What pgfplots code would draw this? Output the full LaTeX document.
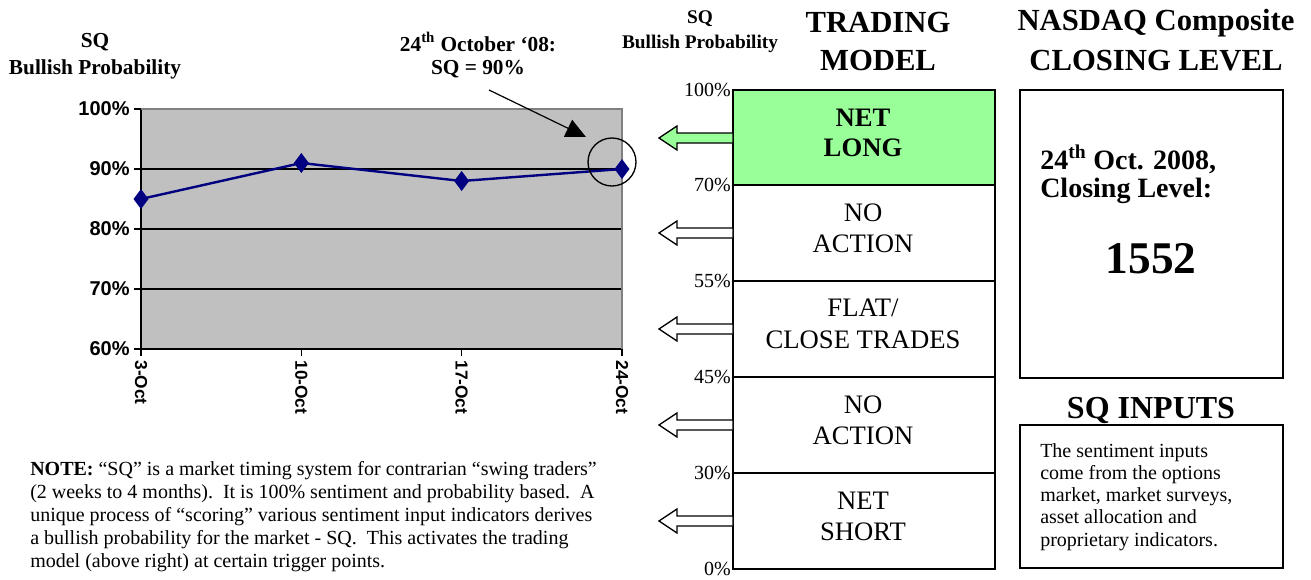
\documentclass[border=0pt]{standalone}
\usepackage{pgfplots}
\pgfplotsset{compat=1.18}
\usepackage{fontspec}
\setmainfont{Liberation Serif}
\newfontfamily\arial{Liberation Sans}
\usetikzlibrary{arrows.meta}
\definecolor{chartgray}{HTML}{C0C0C0}
\definecolor{bordergray}{HTML}{808080}
\definecolor{navyline}{HTML}{000080}
\definecolor{lgreen}{HTML}{99FF99}
\newcommand{\fs}[1]{\fontsize{#1pt}{1.2\dimexpr#1pt\relax}\selectfont}
\begin{document}
\begin{tikzpicture}[x=0.75pt,y=-0.75pt]
\useasboundingbox (0,0) rectangle (1311,579);
\coordinate (axorigin) at (141,349);
\begin{axis}[
  at={(axorigin)}, anchor=south west,
  scale only axis, width=360.75pt, height=180pt,
  xmin=0, xmax=3, ymin=60, ymax=100,
  axis x line*=bottom, axis y line*=left,
  axis line style={line width=1.6pt,-},
  axis background/.style={fill=chartgray},
  xtick={0,1,2,3}, xticklabels={3-Oct,10-Oct,17-Oct,24-Oct},
  ytick={60,70,80,90,100}, yticklabels={60\%,70\%,80\%,90\%,100\%},
  tick align=outside, major tick length=5pt,
  tick style={black, line width=1.2pt},
  x tick label style={rotate=-90, anchor=west, font=\arial\bfseries\fs{13}},
  y tick label style={font=\arial\bfseries\fs{15}},
  extra y ticks={70,80,90}, extra y tick labels={},
  extra y tick style={grid=major, major tick length=0pt},
  grid style={black, line width=1.6pt},
  clip=false,
]
\draw[bordergray, line width=1.5pt] (rel axis cs:0,1) -- (rel axis cs:1,1) -- (rel axis cs:1,0);
\addplot[navyline, line width=1.8pt, mark=diamond*, mark size=6pt, mark options={fill=navyline}]
  coordinates {(0,85) (1,91) (2,88) (3,90)};
\end{axis}
% annotation
\draw[line width=1pt] (612,162) circle [radius=24];
\draw[line width=0.9pt, -{Triangle[length=15, width=14]}] (489,90) -- (586,137);
\node[anchor=base, font=\bfseries\fs{16}] at (478,51) {24\textsuperscript{th} October ‘08:};
\node[anchor=base, font=\bfseries\fs{16}] at (478,74) {SQ = 90\%};
% left header
\node[anchor=base, font=\bfseries\fs{16}] at (95,47) {SQ};
\node[anchor=base, font=\bfseries\fs{16}] at (95,74) {Bullish Probability};
% middle header
\node[anchor=base, font=\bfseries\fs{14.5}] at (700,23) {SQ};
\node[anchor=base, font=\bfseries\fs{14.5}] at (700,48) {Bullish Probability};
\node[anchor=base, font=\bfseries\fs{23}] at (878,32) {TRADING};
\node[anchor=base, font=\bfseries\fs{23}] at (878,70) {MODEL};
\node[anchor=base, font=\bfseries\fs{23}] at (1156,30) {NASDAQ Composite};
\node[anchor=base, font=\bfseries\fs{23}] at (1156,70) {CLOSING LEVEL};
% trading model boxes
\fill[lgreen] (733,90) rectangle (995,185);
\draw[line width=1.2pt] (733,90) rectangle (995,569);
\foreach \yy in {185,281,377,473} \draw[line width=1.2pt] (733,\yy) -- (995,\yy);
\foreach \yy/\lab in {90/100\%,185/70\%,281/55\%,377/45\%,473/30\%,569/0\%}
  \node[anchor=base east, inner sep=0pt, font=\fs{15}] at (731,\yy+6) {\lab};
% box arrows
\foreach \c/\col in {138/lgreen,233/white,329/white,425/white,521/white}
  \draw[line width=1pt, fill=\col] (659,\c) -- (677,\c-12) -- (677,\c-5) -- (733,\c-5) -- (733,\c+5) -- (677,\c+5) -- (677,\c+12) -- cycle;
% box labels
\node[anchor=base, font=\bfseries\fs{20}] at (863,126) {NET};
\node[anchor=base, font=\bfseries\fs{20}] at (863,156) {LONG};
\node[anchor=base, font=\fs{20}] at (863,221) {NO};
\node[anchor=base, font=\fs{20}] at (863,252) {ACTION};
\node[anchor=base, font=\fs{20}] at (863,316) {FLAT/};
\node[anchor=base, font=\fs{20}] at (863,348) {CLOSE TRADES};
\node[anchor=base, font=\fs{20}] at (863,413) {NO};
\node[anchor=base, font=\fs{20}] at (863,444) {ACTION};
\node[anchor=base, font=\fs{20}] at (863,509) {NET};
\node[anchor=base, font=\fs{20}] at (863,540) {SHORT};
% NASDAQ box
\draw[line width=1.2pt] (1020,90) rectangle (1283,378);
\node[anchor=base west, inner sep=0pt, font=\bfseries\fs{21}] at (1040,169) {24\textsuperscript{th} Oct. 2008,};
\node[anchor=base west, inner sep=0pt, font=\bfseries\fs{21}] at (1040,197) {Closing Level:};
\node[anchor=base, font=\bfseries\fs{34}] at (1151,273) {1552};
% SQ inputs
\node[anchor=base, font=\bfseries\fs{24}] at (1151,418) {SQ INPUTS};
\draw[line width=1.2pt] (1020,425) rectangle (1283,568);
\foreach \yy/\txt in {457/The sentiment inputs,479/come from the options,501/{market, market surveys,},523/asset allocation and,546/proprietary indicators.}
  \node[anchor=base west, inner sep=0pt, font=\fs{15}] at (1040,\yy) {\txt};
% NOTE
\node[anchor=base west, inner sep=0pt, font=\fs{15}] at (30,475) {\textbf{NOTE:} “SQ” is a market timing system for contrarian “swing traders”};
\node[anchor=base west, inner sep=0pt, font=\fs{15}] at (30,498) {(2 weeks to 4 months).\ \ It is 100\% sentiment and probability based.\ \ A};
\node[anchor=base west, inner sep=0pt, font=\fs{15}] at (30,521) {unique process of “scoring” various sentiment input indicators derives};
\node[anchor=base west, inner sep=0pt, font=\fs{15}] at (30,544) {a bullish probability for the market - SQ.\ \ This activates the trading};
\node[anchor=base west, inner sep=0pt, font=\fs{15}] at (30,567) {model (above right) at certain trigger points.};
\end{tikzpicture}
\end{document}
